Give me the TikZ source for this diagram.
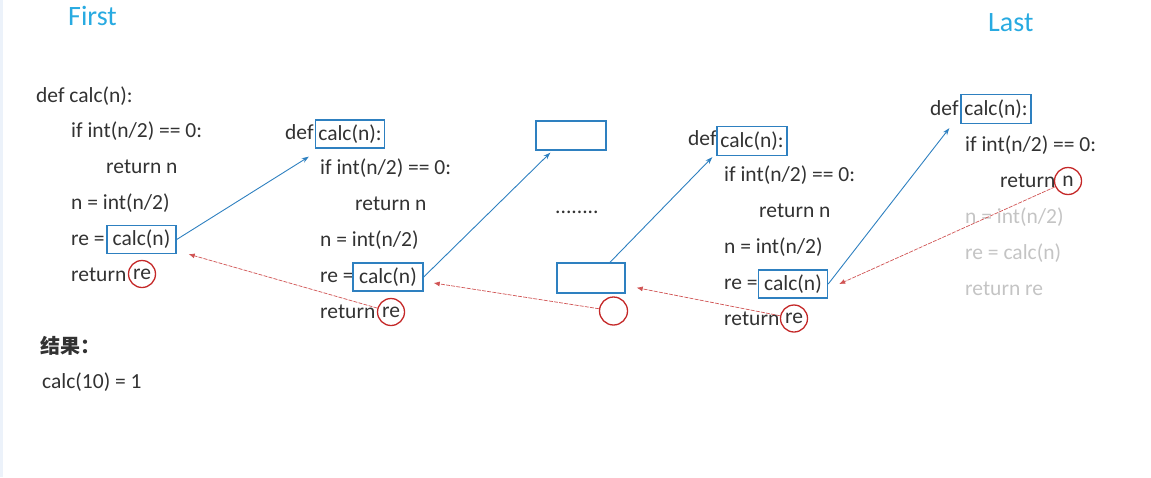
\documentclass[tikz,border=0pt]{standalone}
\usepackage{fontspec}
\setmainfont{Carlito}
\newfontfamily\cjk{Noto Sans CJK SC}
\usetikzlibrary{calc,arrows.meta}
\definecolor{txt}{RGB}{50,50,50}
\definecolor{fade}{RGB}{196,196,196}
\definecolor{bblue}{RGB}{46,128,192}
\definecolor{rred}{RGB}{196,40,40}
\definecolor{ttl}{RGB}{40,170,225}
\definecolor{edge}{RGB}{236,242,250}
\tikzset{
  code/.style={anchor=base west,inner sep=0pt,text=txt,font=\fontsize{21.5}{24}\selectfont},
  gray code/.style={code,text=fade},
  cbox/.style={draw=bblue,line width=1.4pt,inner sep=0pt,minimum height=28pt,text=txt,font=\fontsize{21.5}{24}\selectfont},
  rcirc/.style={draw=rred,line width=1.3pt,circle,inner sep=0pt,minimum size=27pt,text=txt,font=\fontsize{21.5}{24}\selectfont},
  call/.style={draw=bblue,line width=0.9pt,-{Stealth[length=7pt,width=5pt]}},
  ret/.style={draw=rred!80,line width=0.7pt,dash pattern=on 4pt off 1.2pt,-{Latex[length=6pt,width=5pt]}},
  title/.style={anchor=base west,inner sep=0pt,text=ttl,font=\fontsize{28}{30}\selectfont}
}
\begin{document}
\begin{tikzpicture}[x=1pt,y=-1pt]
\useasboundingbox (0,0) rectangle (1151,477);
\fill[edge] (0,0) rectangle (3,477);
% titles
\node[title] (first) at (68,25) {First};
\node[title] (last) at (988,31) {Last};
% block 1
\node[code] (a1) at (36,102) {def calc(n):};
\node[code] (a2) at (71,137) {if int(n/2) == 0:};
\node[code] (a3) at (106,173) {return n};
\node[code] (a4) at (71,209) {n = int(n/2)};
\node[cbox,minimum width=69pt] (c1) at (141.5,239.5) {calc(n)};
\node[code] (a5) at (71,245) {re =};
\node[code] (a6) at (71,281) {return};
\node[rcirc] (r1) at (142,274) {re};
\node[anchor=base west,inner sep=0pt,text=txt,font=\cjk\bfseries\fontsize{20}{22}\selectfont] (res) at (40,353) {结果：};
\node[code] (a7) at (42,388) {calc(10) = 1};
% block 2
\node[code] (b1) at (285,139) {def};
\node[cbox,minimum width=69pt] (d2) at (350,134) {calc(n):};
\node[code] (b2) at (320,174) {if int(n/2) == 0:};
\node[code] (b3) at (355,210) {return n};
\node[code] (b4) at (320,246) {n = int(n/2)};
\node[code] (b5) at (320,282) {re =};
\node[cbox,minimum width=70pt] (c2) at (388,277) {calc(n)};
\node[code] (b6) at (320,318) {return};
\node[rcirc] (r2) at (391,312) {re};
% middle
\node[cbox,minimum width=70pt,minimum height=29pt] (m1) at (571,135.5) {};
\node[code] (dots) at (555,213) {........};
\node[cbox,minimum width=68pt,minimum height=30pt] (m2) at (591,278) {};
\node[rcirc,minimum size=28pt] (mc) at (613.5,311) {};
% block 4
\node[code] (e1) at (688,145) {def};
\node[cbox,minimum width=70pt,minimum height=29pt] (d4) at (752,141) {calc(n):};
\node[code] (e2) at (724,181) {if int(n/2) == 0:};
\node[code] (e3) at (759,217) {return n};
\node[code] (e4) at (724,253) {n = int(n/2)};
\node[code] (e5) at (724,289) {re =};
\node[cbox,minimum width=69pt] (c4) at (793,284) {calc(n)};
\node[code] (e6) at (724,325) {return};
\node[rcirc] (r4) at (794,318.5) {re};
% block 5
\node[code] (f1) at (930,115) {def};
\node[cbox,minimum width=70pt,minimum height=29pt] (d5) at (996,109) {calc(n):};
\node[code] (f2) at (965,151) {if int(n/2) == 0:};
\node[code] (f3) at (1000,187) {return};
\node[rcirc] (r5) at (1068,181) {n};
\node[gray code] (f4) at (965,223) {n = int(n/2)};
\node[gray code] (f5) at (965,259) {re = calc(n)};
\node[gray code] (f6) at (965,295) {return re};
% calls
\draw[call] (c1.east) -- ($(d2.south west)+(-6,8)$);
\draw[call] (c2.east) -- ($(m1.south west)+(15,2)$);
\draw[call] ($(m2.north)+(19,0)$) -- ($(d4.south west)+(-4,1)$);
\draw[call] (c4.east) -- ($(d5.south west)+(-11,4)$);
% returns
\draw[ret] (r2) -- ($(c1.south east)+(12,0)$);
\draw[ret] (mc) -- ($(c2.east)+(10,6)$);
\draw[ret] (r4) -- ($(m2.south east)+(11,-6)$);
\draw[ret] (r5) -- ($(c4.east)+(11,0)$);
\end{tikzpicture}
\end{document}
